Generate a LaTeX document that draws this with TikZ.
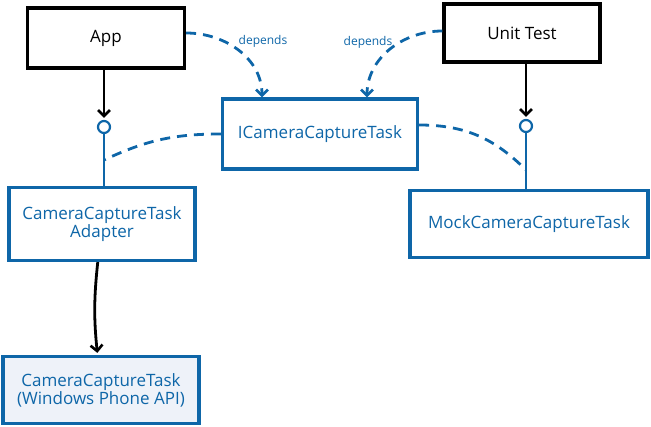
\documentclass[tikz,border=0pt]{standalone}
\usepackage{fontspec}
\setmainfont{Open Sans}
\usepackage{tikz}
\usetikzlibrary{arrows.meta,positioning}
\definecolor{sketchblue}{RGB}{14,102,168}
\definecolor{apifill}{RGB}{238,242,249}

\begin{document}
\begin{tikzpicture}[
  x=1pt,y=1pt,
  every node/.style={font=\fontsize{17}{20}\selectfont},
  client/.style={draw=black,line width=3.2pt,fill=white,align=center,inner sep=0pt},
  iface/.style={draw=sketchblue,text=sketchblue,line width=3.2pt,fill=white,align=center,inner sep=0pt},
  lolli/.style={circle,draw=sketchblue,line width=2.2pt,fill=white,minimum size=12pt,inner sep=0pt},
  uses/.style={-{Straight Barb[length=6pt,width=12pt,line width=2.6pt]},line width=2.8pt,shorten >=2pt},
  impl/.style={sketchblue,line width=2.8pt},
  dep/.style={sketchblue,line width=2.8pt,dash pattern=on 10pt off 7pt},
  deptip/.style={-{Straight Barb[length=6pt,width=12pt,line width=2.6pt]}},
  deplabel/.style={text=sketchblue,font=\fontsize{12}{14}\selectfont}
]
  \useasboundingbox (0,0) rectangle (651,-427);

  % clients
  \node[client,minimum width=157pt,minimum height=60pt] (app) at (106,-38) {App};
  \node[client,minimum width=156pt,minimum height=58pt] (unit) at (522,-33) {Unit Test};

  % interface and its implementations
  \node[iface,minimum width=195pt,minimum height=70pt] (icam) at (320,-134) {ICameraCaptureTask};
  \node[iface,minimum width=186pt,minimum height=73pt] (adapter) at (102,-224) {CameraCaptureTask\\[-2pt]Adapter};
  \node[iface,minimum width=238pt,minimum height=67pt] (mock) at (529,-224) {MockCameraCaptureTask};
  \node[iface,fill=apifill,minimum width=196pt,minimum height=67pt] (wpapi) at (101,-390) {CameraCaptureTask\\[-2pt](Windows Phone API)};

  % lollipops
  \node[lolli] (lola) at (104,-127) {};
  \node[lolli] (lolm) at (526,-126) {};
  \coordinate (stema) at (104,-160);
  \coordinate (stemm) at (526,-170);

  \draw[impl] (lola) -- (lola |- adapter.north);
  \draw[impl] (lolm) -- (lolm |- mock.north);
  \draw[dep] (icam.west) to[out=180,in=25] (stema);
  \draw[dep] ([yshift=9pt]icam.east) to[out=0,in=135] (stemm);

  \draw[uses] (app.south -| lola) -- (lola);
  \draw[uses] (unit.south -| lolm) -- (lolm);
  \draw[uses] (adapter) to[bend right=6] (wpapi);

  % depends
  \draw[dep,deptip] ([yshift=5pt]app.east) to[out=0,in=90] ([xshift=-58pt]icam.north);
  \draw[dep,deptip] ([yshift=2pt]unit.west) to[out=180,in=90] ([xshift=47pt]icam.north);
  \node[deplabel] (depa) at (263,-41) {depends};
  \node[deplabel] (depu) at (368,-42) {depends};
\end{tikzpicture}
\end{document}
